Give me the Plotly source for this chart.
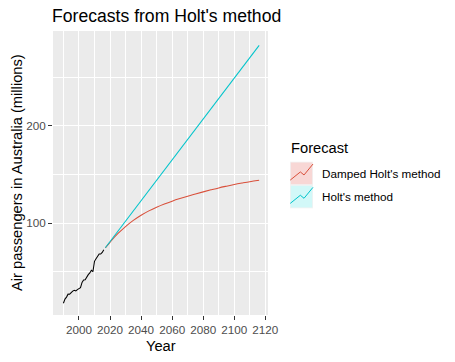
import plotly.graph_objects as go

# ---- data ----
obs_years = [1990, 1991, 1992, 1993, 1994, 1995, 1996, 1997, 1998, 1999,
             2000, 2001, 2002, 2003, 2004, 2005, 2006, 2007, 2008, 2009,
             2010, 2011, 2012, 2013, 2014, 2015, 2016]
passengers = [17.55, 21.86, 23.89, 26.93, 26.89, 28.83, 30.08, 30.95, 30.19, 31.58,
              32.58, 33.48, 39.02, 41.39, 41.60, 44.66, 46.95, 48.73, 51.49, 50.03,
              60.64, 63.36, 66.36, 68.20, 68.12, 69.78, 72.60]

holt_years = [2017, 2030, 2050, 2070, 2090, 2110, 2116]
holt_values = [74.6, 101.9, 143.9, 185.9, 227.9, 269.9, 282.5]

damped_years = [2017, 2020, 2025, 2030, 2035, 2040, 2045, 2050, 2055, 2060, 2065,
                2070, 2075, 2080, 2085, 2090, 2095, 2100, 2105, 2110, 2116]
damped_values = [74.5, 80.2, 89.0, 96.4, 102.7, 108.0, 112.5, 116.3, 119.6, 122.5, 125.1,
                 127.5, 129.8, 132.0, 134.1, 136.1, 137.9, 139.6, 141.1, 142.5, 143.9]

x_ticks = [2000, 2020, 2040, 2060, 2080, 2100, 2120]
y_ticks = [100, 200]

legend_title = "Forecast"
legend_labels = ["Damped Holt's method", "Holt's method"]

# ---- styling ----
FONT = "Liberation Sans, Arial, sans-serif"
RED = "#D9503B"
CYAN = "#00C4CB"
PINK_FILL = "#F8D7D5"
CYAN_FILL = "#D2F8F8"

W, H = 455, 362
PANEL_L, PANEL_R, PANEL_T, PANEL_B = 53, 268, 31, 315   # pixel coords
PW, PH = PANEL_R - PANEL_L, PANEL_B - PANEL_T
L, T = PANEL_L, PANEL_T
R, B = W - L - PW, H - T - PH


def px(x):
    return (x - PANEL_L) / PW


def py(y):
    return (PANEL_B - y) / PH


fig = go.Figure()

fig.add_trace(go.Scatter(x=obs_years, y=passengers, mode="lines",
                         line=dict(color="black", width=1.05), showlegend=False,
                         hoverinfo="skip"))
fig.add_trace(go.Scatter(x=damped_years, y=damped_values, mode="lines",
                         line=dict(color=RED, width=1.05), showlegend=False,
                         line_shape="spline"))
fig.add_trace(go.Scatter(x=holt_years, y=holt_values, mode="lines",
                         line=dict(color=CYAN, width=1.05), showlegend=False))

axis_common = dict(
    showline=False, zeroline=False,
    gridcolor="white", gridwidth=1.1,
    ticks="outside", ticklen=4, tickwidth=1, tickcolor="#333333",
    tickfont=dict(family=FONT, size=11.7, color="#4D4D4D"),
)

fig.update_xaxes(range=[1983.3, 2121.7], tickvals=x_ticks,
                 minor=dict(dtick=10, tick0=1990, showgrid=True, gridcolor="white", gridwidth=0.55),
                 **axis_common)
fig.update_yaxes(range=[5.5, 297.3], tickvals=y_ticks,
                 minor=dict(dtick=50, tick0=0, showgrid=True, gridcolor="white", gridwidth=0.55),
                 **axis_common)

shapes = []
annotations = []

# legend keys (drawn manually to imitate ggplot key glyphs)
key_x0, key_x1 = 290, 313
key_tops = [161.7, 185.0]
key_h = 23.3
zig = [(0.01, 0.79), (0.45, 0.44), (0.61, 0.57), (1.0, 0.10)]
for top, fill, col in zip(key_tops, [PINK_FILL, CYAN_FILL], [RED, CYAN]):
    shapes.append(dict(type="rect", xref="paper", yref="paper",
                       x0=px(key_x0), x1=px(key_x1), y0=py(top + key_h), y1=py(top),
                       fillcolor="#F2F2F2", line=dict(width=0), layer="above"))
    shapes.append(dict(type="rect", xref="paper", yref="paper",
                       x0=px(key_x0 + 0.8), x1=px(key_x1 - 0.8), y0=py(top + key_h - 0.8), y1=py(top + 0.8),
                       fillcolor=fill, line=dict(width=0), layer="above"))
    pts = [(key_x0 + fx * (key_x1 - key_x0), top + fy * key_h) for fx, fy in zig]
    path = "M " + " L ".join(f"{px(a):.5f},{py(b):.5f}" for a, b in pts)
    shapes.append(dict(type="path", xref="paper", yref="paper", path=path,
                       line=dict(color=col, width=1), layer="above"))

annotations.append(dict(text=legend_title, xref="paper", yref="paper",
                        x=px(289), y=py(148), xanchor="left", yanchor="middle",
                        showarrow=False, font=dict(family=FONT, size=14.7, color="black")))
for lab, cy in zip(legend_labels, [173.3, 196.7]):
    annotations.append(dict(text=lab, xref="paper", yref="paper",
                            x=px(320), y=py(cy), xanchor="left", yanchor="middle",
                            showarrow=False, font=dict(family=FONT, size=11.7, color="black")))

# axis titles
annotations.append(dict(text="Year", xref="paper", yref="paper",
                        x=px(160.5), y=py(346), xanchor="center", yanchor="middle",
                        showarrow=False, font=dict(family=FONT, size=14.7, color="black")))
annotations.append(dict(text="Air passengers in Australia (millions)", xref="paper", yref="paper",
                        x=px(17), y=py(173), xanchor="center", yanchor="middle", textangle=-90,
                        showarrow=False, font=dict(family=FONT, size=14.7, color="black")))

fig.update_layout(
    width=W, height=H,
    margin=dict(l=L, r=R, t=T, b=B, autoexpand=False),
    paper_bgcolor="white", plot_bgcolor="#EBEBEB",
    title=dict(text="Forecasts from Holt's method", xref="container",
               x=(PANEL_L - 1) / W, xanchor="left",
               y=1 - 16 / H, yanchor="middle",
               font=dict(family=FONT, size=17.6, color="black")),
    shapes=shapes, annotations=annotations,
    showlegend=False,
)

fig.write_html("out.html",
               config={"displayModeBar": False},
               post_script="document.body.style.margin='0';document.body.style.overflow='hidden';")
